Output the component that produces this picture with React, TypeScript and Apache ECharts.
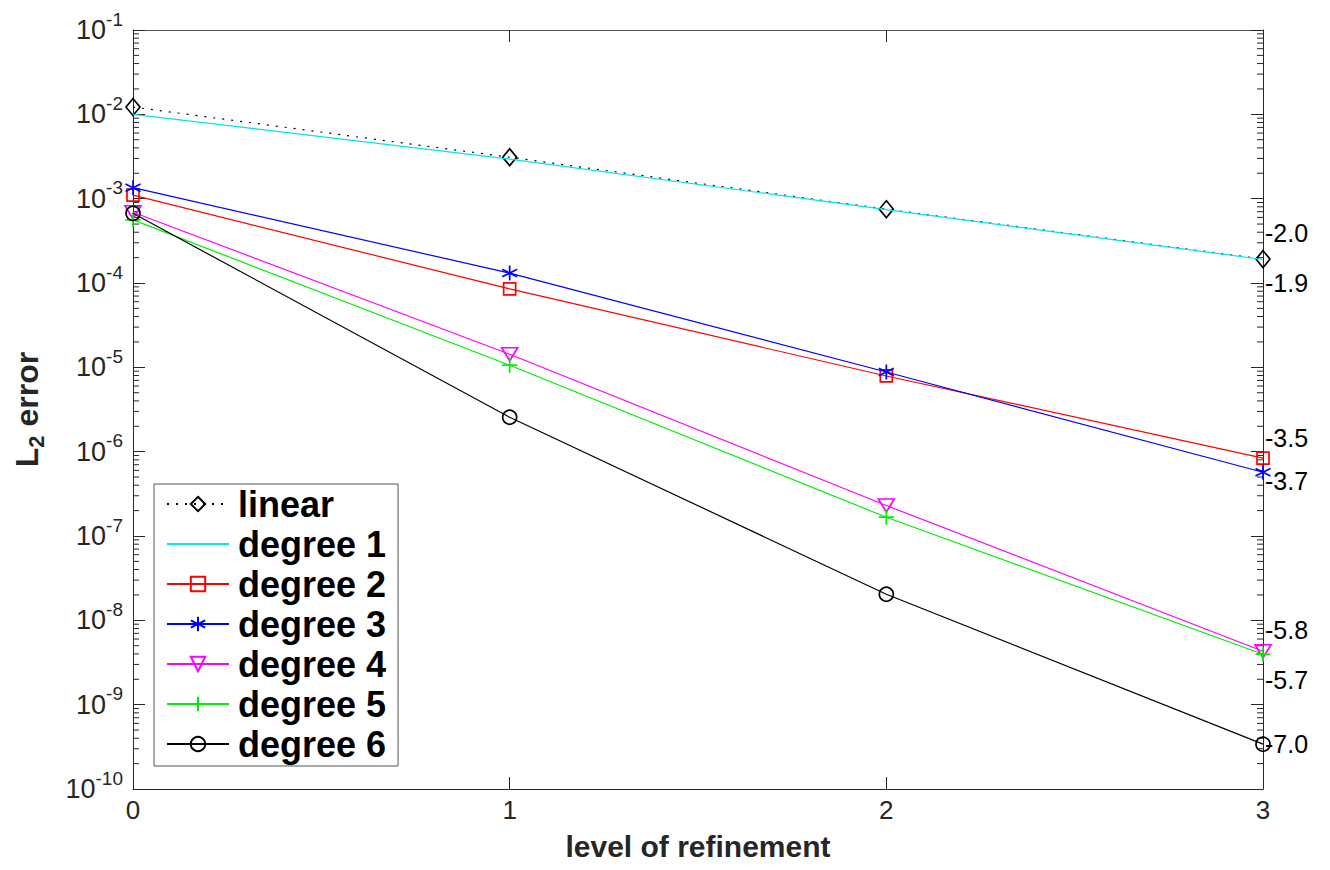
import React, { useEffect, useRef } from 'react';
import * as echarts from 'echarts';

// Refinement levels along the x axis
const levels = [0, 1, 2, 3];

// L2 error per refinement level
const linearErr = [1.22e-2, 3.1e-3, 7.5e-4, 1.92e-4];
const degree1Err = [1.0e-2, 2.95e-3, 7.4e-4, 1.9e-4];
const degree2Err = [1.1e-3, 8.5e-5, 7.9e-6, 8.4e-7];
const degree3Err = [1.35e-3, 1.31e-4, 8.8e-6, 5.7e-7];
const degree4Err = [6.9e-4, 1.43e-5, 2.3e-7, 4.3e-9];
const degree5Err = [5.6e-4, 1.06e-5, 1.67e-7, 3.96e-9];
const degree6Err = [6.7e-4, 2.56e-6, 2.04e-8, 3.4e-10];

const seriesNames = ['linear', 'degree 1', 'degree 2', 'degree 3', 'degree 4', 'degree 5', 'degree 6'];
const seriesErrors = [linearErr, degree1Err, degree2Err, degree3Err, degree4Err, degree5Err, degree6Err];

// Convergence rates printed at the end of each curve
const rateLabels = ['-2.0', '-1.9', '-3.5', '-3.7', '-5.8', '-5.7', '-7.0'];

// Axis range (decades)
const yMin = 1e-10;
const yMax = 1e-1;

const FONT = '"Liberation Sans", Arial, Helvetica, sans-serif';
const AXIS_COLOR = '#262626';
const CLEAR = 'rgba(0,0,0,0)';

// Marker shapes
const ASTERISK = 'path://M5,0 L5,10 M0.67,2.5 L9.33,7.5 M0.67,7.5 L9.33,2.5';
const PLUS = 'path://M5,0 L5,10 M0,5 L10,5';

const styles = [
  { color: '#000000', symbol: 'diamond', size: [14, 17], rotate: 0, dash: [2, 7] as any, labelDy: -26, marker: true },
  { color: '#00e5ee', symbol: 'circle', size: 10, rotate: 0, dash: 'solid', labelDy: 24, marker: false },
  { color: '#ff0000', symbol: 'rect', size: 12, rotate: 0, dash: 'solid', labelDy: -20, marker: true },
  { color: '#0000ff', symbol: ASTERISK, size: 15, rotate: 0, dash: 'solid', labelDy: 9, marker: true },
  { color: '#ff00ff', symbol: 'triangle', size: [16, 13], rotate: 180, dash: 'solid', labelDy: -21, marker: true },
  { color: '#00ee00', symbol: PLUS, size: 15, rotate: 0, dash: 'solid', labelDy: 26, marker: true },
  { color: '#000000', symbol: 'circle', size: 14, rotate: 0, dash: 'solid', labelDy: 0, marker: true },
];

export default function App() {
  const ref = useRef<HTMLDivElement>(null);

  useEffect(() => {
    document.body.style.margin = '0';
    if (!ref.current) return;
    const chart = echarts.init(ref.current, undefined, { renderer: 'svg' });

    const series = seriesNames.map((name, i) => {
      const s = styles[i];
      return {
        name,
        type: 'line',
        data: levels.map((lv, j) => [lv, seriesErrors[i][j]]),
        symbol: s.symbol,
        symbolSize: s.size,
        symbolRotate: s.rotate,
        showSymbol: s.marker,
        clip: false,
        lineStyle: { color: s.color, width: 1.2, type: s.dash },
        itemStyle: {
          color: CLEAR,
          borderColor: s.marker ? s.color : CLEAR,
          borderWidth: 1.7,
        },
        emphasis: { disabled: true },
        z: 2 + i,
        endLabel: {
          show: true,
          formatter: rateLabels[i],
          distance: 2,
          offset: [0, s.labelDy],
          fontSize: 25,
          fontFamily: FONT,
          color: '#000',
        },
      };
    });

    const tickLabel = {
      fontFamily: FONT,
      color: AXIS_COLOR,
    };

    chart.setOption({
      animation: false,
      backgroundColor: '#ffffff',
      textStyle: { fontFamily: FONT },
      grid: { left: 133, right: 67, top: 30, bottom: 81, containLabel: false },
      legend: {
        data: seriesNames,
        orient: 'vertical',
        left: 154,
        top: 484,
        itemWidth: 62,
        itemHeight: 18,
        itemGap: 4,
        padding: [2, 12, 4, 12],
        borderColor: '#555',
        borderWidth: 1,
        backgroundColor: '#fff',
        selectedMode: false,
        textStyle: {
          fontSize: 36,
          fontWeight: 'bold',
          fontFamily: FONT,
          color: '#000',
          lineHeight: 36,
          padding: [0, 0, 0, 4],
        },
      },
      xAxis: [
        {
          type: 'value',
          min: 0,
          max: 3,
          interval: 1,
          name: 'level of refinement',
          nameLocation: 'middle',
          nameGap: 42,
          nameTextStyle: { fontSize: 30, fontWeight: 'bold', color: AXIS_COLOR, fontFamily: FONT },
          axisLine: { onZero: false, lineStyle: { color: AXIS_COLOR, width: 1 } },
          axisTick: { inside: true, length: 12, lineStyle: { color: AXIS_COLOR } },
          axisLabel: { ...tickLabel, fontSize: 26, margin: 8 },
          splitLine: { show: false },
        },
        {
          type: 'value',
          position: 'top',
          min: 0,
          max: 3,
          interval: 1,
          axisLine: { onZero: false, lineStyle: { color: '#555', width: 1 } },
          axisTick: { inside: true, length: 12, lineStyle: { color: AXIS_COLOR } },
          axisLabel: { show: false },
          splitLine: { show: false },
        },
      ],
      yAxis: [
        {
          type: 'log',
          logBase: 10,
          min: yMin,
          max: yMax,
          interval: 1,
          name: '{m|L}{sub|2}{m| error}',
          nameLocation: 'middle',
          nameGap: 86,
          nameRotate: 90,
          nameTextStyle: {
            rich: {
              m: { fontSize: 32, fontWeight: 'bold', color: AXIS_COLOR, fontFamily: FONT },
              sub: { fontSize: 22, fontWeight: 'bold', color: AXIS_COLOR, fontFamily: FONT, padding: [18, 0, 0, 0] },
            },
          },
          axisLine: { show: true, onZero: false, lineStyle: { color: AXIS_COLOR, width: 1 } },
          axisTick: { inside: true, length: 12, lineStyle: { color: AXIS_COLOR } },
          axisLabel: {
            margin: 10,
            formatter: (v: number) => `{b|10}{s|${Math.round(Math.log10(v))}}`,
            rich: {
              b: { ...tickLabel, fontSize: 27 },
              s: { ...tickLabel, fontSize: 19, padding: [0, 0, 22, 0] },
            },
          },
          splitLine: { show: false },
        },
        {
          type: 'log',
          logBase: 10,
          position: 'right',
          min: yMin,
          max: yMax,
          interval: 1,
          axisLine: { show: true, onZero: false, lineStyle: { color: AXIS_COLOR, width: 1 } },
          axisTick: { inside: true, length: 12, lineStyle: { color: AXIS_COLOR } },
          axisLabel: { show: false },
          splitLine: { show: false },
        },
      ],
      series,
    });

    // Minor log ticks (2..9 within each decade) on both vertical sides of the box
    const xLeft = chart.convertToPixel({ xAxisIndex: 0 }, 0) as number;
    const xRight = chart.convertToPixel({ xAxisIndex: 0 }, 3) as number;
    const elements: any[] = [];
    const lo = Math.round(Math.log10(yMin));
    const hi = Math.round(Math.log10(yMax));
    for (let d = lo; d < hi; d++) {
      for (let k = 2; k <= 9; k++) {
        const y = chart.convertToPixel({ yAxisIndex: 0 }, k * Math.pow(10, d)) as number;
        elements.push({
          type: 'line',
          silent: true,
          shape: { x1: xLeft, y1: y, x2: xLeft + 6, y2: y },
          style: { stroke: AXIS_COLOR, lineWidth: 1 },
        });
        elements.push({
          type: 'line',
          silent: true,
          shape: { x1: xRight - 6, y1: y, x2: xRight, y2: y },
          style: { stroke: AXIS_COLOR, lineWidth: 1 },
        });
      }
    }
    chart.setOption({ graphic: { elements } });

    return () => chart.dispose();
  }, []);

  return <div ref={ref} style={{ width: 1330, height: 870 }} />;
}
